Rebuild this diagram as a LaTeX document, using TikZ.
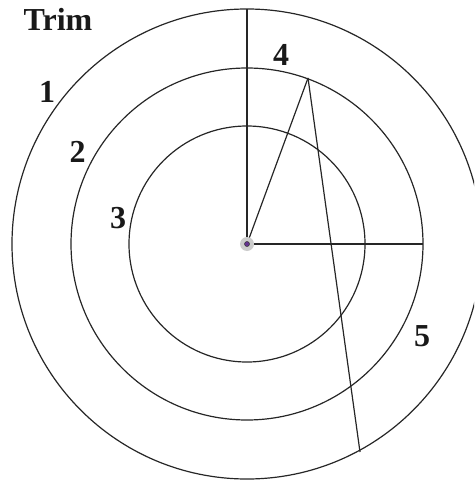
\documentclass[tikz,border=0pt]{standalone}
\usepackage{fontspec}
\setmainfont{Liberation Serif}
\begin{document}
\begin{tikzpicture}[x=1pt,y=-1pt,
  ring/.style={draw=black!85,line width=1.2pt},
  seg/.style={draw=black!85,line width=1.2pt},
  lab/.style={font=\fontsize{32}{34}\selectfont\bfseries,text=black!90,inner sep=0pt}]
\useasboundingbox (0,0) rectangle (474,481);
\clip (0,0) rectangle (474,481);
\coordinate (O) at (247,244);
\draw[ring] (O) circle[radius=235];
\draw[ring] (O) circle[radius=176];
\draw[ring] (O) circle[radius=118];
\coordinate (top) at (247,9);
\coordinate (A) at (308,78);
\coordinate (B) at (360,452);
\coordinate (R) at (423,244);
\draw[seg] (O) -- (top);
\draw[seg] (O) -- (R);
\draw[seg] (O) -- (A);
\draw[seg] (A) -- (B);
\fill[black!20] (O) circle[radius=7];
\filldraw[fill=violet!70!blue!70!black!80,draw=black!80,line width=0.5pt] (O) circle[radius=2.5];
\node[lab] (trim) at (58,19) {Trim};
\node[lab] (n1) at (47,92) {1};
\node[lab] (n2) at (77.5,152) {2};
\node[lab] (n3) at (118,218) {3};
\node[lab] (n4) at (281,55) {4};
\node[lab] (n5) at (422,336) {5};
\end{tikzpicture}
\end{document}
